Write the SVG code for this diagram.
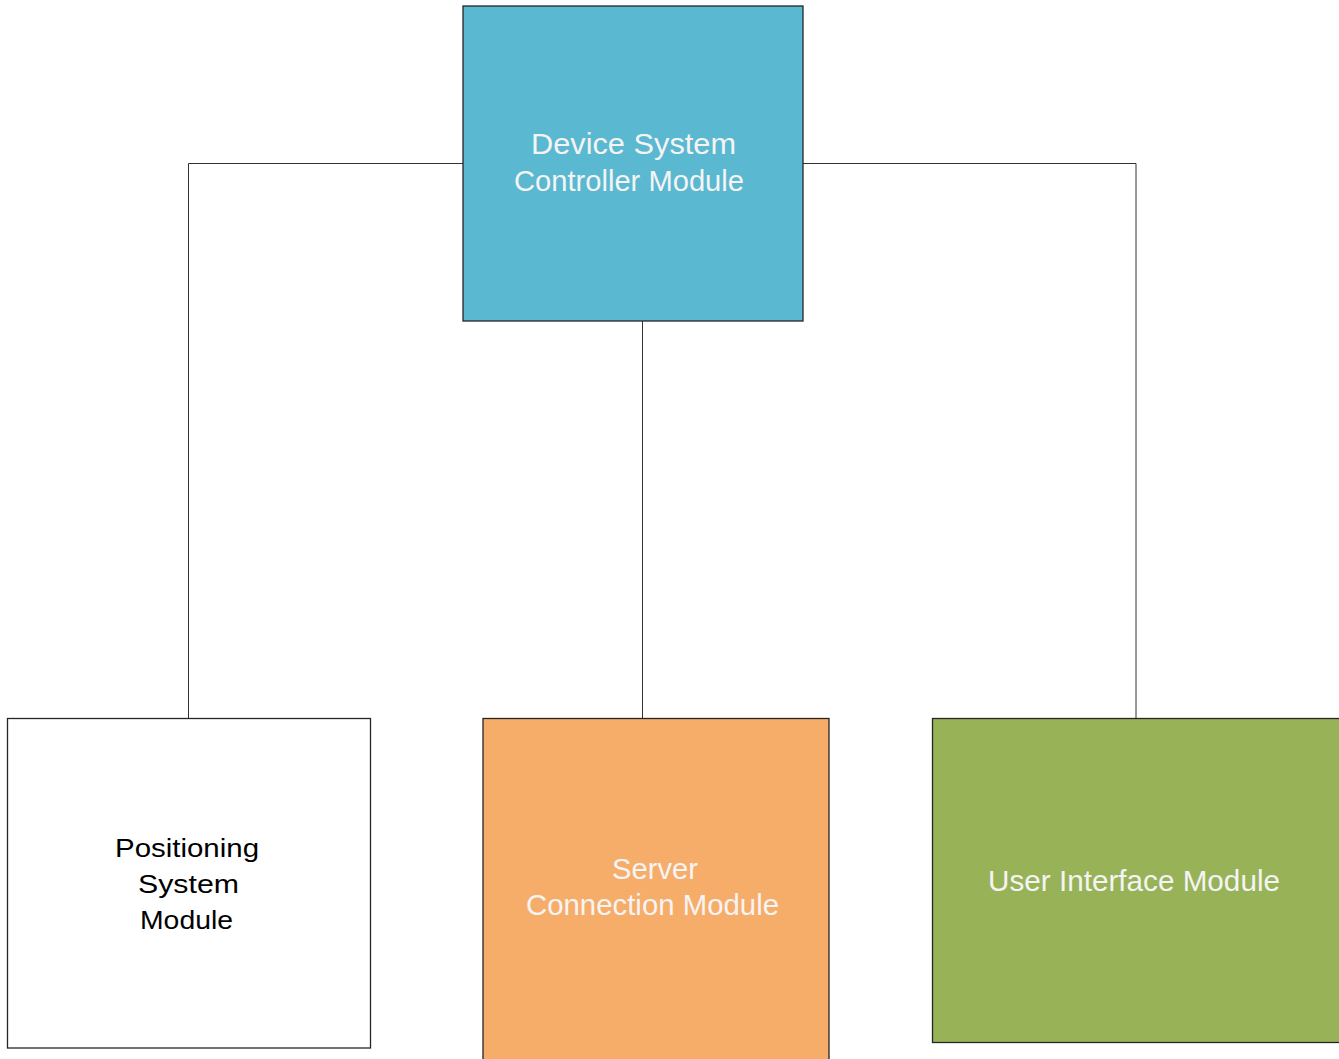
<svg xmlns="http://www.w3.org/2000/svg" width="1339" height="1059" viewBox="0 0 1339 1059">
<style>
.box{stroke:#262626;stroke-width:1.3}
.conn{fill:none;stroke:#333;stroke-width:1}
.lw{font-family:"Liberation Sans",Arial,sans-serif;font-size:29px;fill:#F4F4F4}
.lb{font-family:"Liberation Sans",Arial,sans-serif;font-size:25.5px;fill:#000}
</style>
<rect width="1339" height="1059" fill="#fff"/>
<g id="connectors">
<path class="conn" d="M463 163.5 H188.5 V718.5"/>
<path class="conn" d="M803 163.5 H1136 V718.5"/>
<path class="conn" d="M642.5 321 V718.5"/>
</g>
<g id="device-system-controller">
<rect class="box" x="463" y="6" width="340" height="315" fill="#5BB8D1"/>
<text class="lw" x="531" y="154" textLength="205" lengthAdjust="spacingAndGlyphs">Device System</text>
<text class="lw" x="514" y="190.5" textLength="230" lengthAdjust="spacingAndGlyphs">Controller Module</text>
</g>
<g id="positioning-system">
<rect class="box" x="7.5" y="718.5" width="363" height="329.5" fill="#fff"/>
<text class="lb" x="115" y="857" textLength="144" lengthAdjust="spacingAndGlyphs">Positioning</text>
<text class="lb" x="138" y="893" textLength="101" lengthAdjust="spacingAndGlyphs">System</text>
<text class="lb" x="140" y="929" textLength="93" lengthAdjust="spacingAndGlyphs">Module</text>
</g>
<g id="server-connection">
<rect class="box" x="483" y="718.5" width="346" height="345" fill="#F7AD6A"/>
<text class="lw" x="612" y="879" textLength="86" lengthAdjust="spacingAndGlyphs">Server</text>
<text class="lw" x="526" y="915" textLength="253" lengthAdjust="spacingAndGlyphs">Connection Module</text>
</g>
<g id="user-interface">
<rect class="box" x="932.5" y="718.5" width="412" height="324" fill="#98B258"/>
<text class="lw" x="988" y="891" textLength="292" lengthAdjust="spacingAndGlyphs">User Interface Module</text>
</g>
</svg>
